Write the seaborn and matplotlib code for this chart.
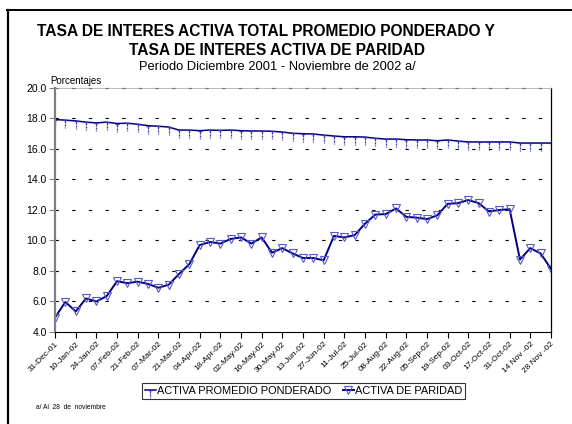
import numpy as np
import pandas as pd
import matplotlib
matplotlib.use("Agg")
import matplotlib.pyplot as plt
from matplotlib.path import Path
from matplotlib.lines import Line2D
import seaborn as sns

tick_labels = ["31-Dec-01", "10-Jan-02", "24-Jan-02", "07-Feb-02", "21-Feb-02",
               "07-Mar-02", "21-Mar-02", "04-Apr-02", "18-Apr-02", "02-May-02",
               "16-May-02", "30-May-02", "13-Jun-02", "27-Jun-02", "11-Jul-02",
               "25-Jul-02", "08-Aug-02", "22-Aug-02", "05-Sep-02", "19-Sep-02",
               "03-Oct-02", "17-Oct-02", "31-Oct-02", "14 Nov -02", "28 Nov -02"]

promedio = [17.93, 17.89, 17.84, 17.76, 17.71, 17.76, 17.67, 17.69, 17.62, 17.53,
            17.49, 17.44, 17.24, 17.24, 17.20, 17.24, 17.22, 17.24, 17.20, 17.18,
            17.18, 17.16, 17.11, 17.03, 17.00, 16.98, 16.91, 16.85, 16.80, 16.80,
            16.78, 16.70, 16.65, 16.65, 16.61, 16.59, 16.59, 16.54, 16.59, 16.52,
            16.46, 16.46, 16.46, 16.46, 16.46, 16.39, 16.39, 16.39, 16.39]

paridad = [4.95, 5.97, 5.35, 6.20, 6.00, 6.35, 7.33, 7.20, 7.30, 7.15,
           6.90, 7.10, 7.80, 8.45, 9.70, 9.90, 9.80, 10.10, 10.20, 9.80,
           10.20, 9.20, 9.50, 9.15, 8.85, 8.85, 8.70, 10.30, 10.20, 10.35,
           11.10, 11.70, 11.73, 12.10, 11.55, 11.50, 11.40, 11.65, 12.40, 12.45,
           12.65, 12.45, 11.90, 12.00, 12.05, 8.75, 9.50, 9.15, 8.15]

series_names = ["ACTIVA PROMEDIO PONDERADO", "ACTIVA DE PARIDAD"]

plt.rcParams['font.family'] = ['Liberation Sans', 'DejaVu Sans']

df = pd.DataFrame({
    "idx": np.arange(len(promedio)),
    "promedio": promedio,
    "paridad": paridad,
})

# custom marker: small cross-bar with dotted stem hanging below
verts = [(-0.3, 0), (0.3, 0),
         (0, 0), (0, -0.35),
         (0, -0.55), (0, -0.7),
         (0, -0.85), (0, -1.0)]
codes = [Path.MOVETO, Path.LINETO] * 4
stem_marker = Path(verts, codes)

fig = plt.figure(figsize=(5.72, 4.24), dpi=100)
ax = fig.add_axes([0.0962, 0.217, 0.867, 0.5755])

navy = "#000080"
sns.lineplot(data=df, x="idx", y="promedio", ax=ax, color=navy, lw=1.1,
             marker=stem_marker, markersize=11.5, markeredgecolor="#3535a8",
             markeredgewidth=0.9, markerfacecolor="none")
sns.lineplot(data=df, x="idx", y="paridad", ax=ax, color=navy, lw=1.4,
             marker="v", markersize=5.5, markeredgecolor="#5858c8",
             markeredgewidth=0.8, markerfacecolor="none")

ax.set_xlim(0, len(promedio) - 1)
ax.set_ylim(4, 20)
ax.set_yticks(np.arange(4, 20.1, 2))
ax.set_yticklabels([f"{v:.1f}" for v in np.arange(4, 20.1, 2)], fontsize=7.5)
ax.set_xticks(np.arange(0, len(promedio), 2))
ax.set_xticklabels(tick_labels, rotation=45, ha="right", rotation_mode="anchor",
                   fontsize=6)
ax.set_xlabel("")
ax.set_ylabel("")

for y in np.arange(6, 20.1, 2):
    ax.axhline(y, color="black", lw=0.8, dashes=(3, 12), zorder=0.5,
               clip_on=False)

ax.tick_params(axis="y", length=4, width=0.8, color="#808080", pad=2)
ax.tick_params(axis="x", length=4, width=0.8, color="black", pad=2)
ax.spines["left"].set_color("#808080")
ax.spines["left"].set_linewidth(1.6)
ax.spines["bottom"].set_color("black")
ax.spines["bottom"].set_linewidth(0.8)
ax.spines["right"].set_color("black")
ax.spines["right"].set_linewidth(0.9)
ax.spines["top"].set_color("#a0a0a0")
ax.spines["top"].set_linewidth(0.5)
ax.grid(False)

# outer chart border
fig.add_artist(Line2D([0.014, 0.014], [0.0, 0.976], transform=fig.transFigure,
                      color="black", lw=1.6))
fig.add_artist(Line2D([0.013, 1.0], [0.976, 0.976], transform=fig.transFigure,
                      color="black", lw=1.4))

fig.text(0.465, 0.925, "TASA DE INTERES ACTIVA TOTAL PROMEDIO PONDERADO Y",
         ha="center", va="center", fontsize=11.2, fontweight="bold")
fig.text(0.485, 0.882, "TASA DE INTERES ACTIVA DE PARIDAD",
         ha="center", va="center", fontsize=11.2, fontweight="bold")
fig.text(0.485, 0.842, "Periodo Diciembre 2001 - Noviembre de 2002 a/",
         ha="center", va="center", fontsize=9.3)
fig.text(0.088, 0.81, "Porcentajes", ha="left", va="center", fontsize=7)
fig.text(0.063, 0.038, "a/ Al  28  de  noviembre", ha="left", va="center",
         fontsize=4.8)

h1 = Line2D([], [], color=navy, lw=1.1, marker=stem_marker, markersize=11.5,
            markeredgecolor="#3535a8", markeredgewidth=0.9)
h2 = Line2D([], [], color=navy, lw=1.4, marker="v", markersize=5.5,
            markeredgecolor="#5858c8", markeredgewidth=0.8, markerfacecolor="none")
leg = fig.legend([h1, h2], series_names, loc="center", ncol=2,
                 bbox_to_anchor=(0.531, 0.078), fontsize=7.9, frameon=True,
                 fancybox=False, edgecolor="black", handlelength=1.0,
                 handletextpad=0.15, columnspacing=1.0, borderpad=0.25,
                 borderaxespad=0)
leg.get_frame().set_linewidth(0.8)

fig.savefig("out.png", dpi=100)
